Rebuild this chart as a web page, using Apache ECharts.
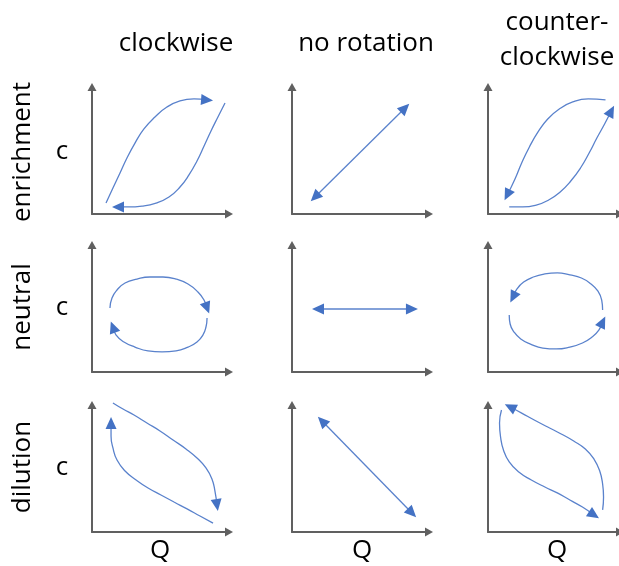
<!DOCTYPE html>
<html><head><meta charset="utf-8">
<script src="https://cdn.jsdelivr.net/npm/echarts@6/dist/echarts.min.js"></script>
<style>html,body{margin:0;padding:0;background:#fff}#c{width:619px;height:566px}</style>
</head><body><div id="c"></div>
<script>
// ---- text ----
const columnTitles = ['clockwise', 'no rotation', 'counter-\nclockwise'];
const rowLabels = ['enrichment', 'neutral', 'dilution'];
const yAxisLabel = 'c';
const xAxisLabel = 'Q';

// ---- curves (data units, each panel axes 0..100) ----
// row 0: enrichment
const enrCwUpper = [[10.3,8.7],[15.4,20.6],[20.6,32.5],[25.7,44.4],[31.6,56.3],[38.2,67.5],[46.3,77.0],[55.1,84.9],[64.7,89.7],[75.0,91.3],[84.6,90.5]];
const enrCwLower = [[97.8,88.1],[92.6,77.0],[87.5,65.9],[82.4,54.0],[77.2,42.1],[71.3,31.0],[64.7,21.4],[56.6,13.5],[47.1,8.7],[36.8,6.3],[26.5,5.6],[19.1,5.6]];
const enrNone = [[16.9,13.5],[83.1,84.1]];
const enrCcwUpper = [[89.7,90.5],[76.5,91.3],[64.7,88.9],[54.4,83.3],[45.6,75.4],[38.2,65.1],[31.6,53.2],[25.7,40.5],[20.6,27.8],[14.7,15.1]];
const enrCcwLower = [[16.2,5.6],[26.5,5.6],[36.8,7.1],[46.3,11.1],[55.1,17.5],[63.2,26.2],[70.6,36.5],[77.2,48.4],[83.1,60.3],[89.0,71.4],[94.1,81.7]];
// row 1: neutral
const neuCwTop = [[13.2,50.8],[14.7,58.7],[18.4,65.1],[24.3,70.6],[33.1,73.8],[42.6,75.4],[52.2,75.4],[61.8,73.8],[70.6,69.8],[77.9,63.5],[82.4,57.1],[84.6,50.8]];
const neuCwBottom = [[84.6,42.9],[83.8,35.7],[81.6,29.4],[77.2,23.8],[70.6,19.8],[61.8,16.7],[51.5,15.9],[41.2,16.7],[31.6,19.8],[23.5,23.8],[17.6,29.4],[15.4,35.7]];
const neuNone = [[19.1,50.0],[88.2,50.0]];
const neuCcwTop = [[87.5,49.2],[86.8,57.1],[83.8,64.3],[78.7,69.8],[71.3,74.6],[62.5,77.0],[52.9,78.6],[43.4,77.8],[34.6,75.4],[27.2,71.4],[22.1,65.9],[19.1,59.5]];
const neuCcwBottom = [[16.2,45.2],[16.9,38.1],[19.9,31.7],[25.0,26.2],[32.4,22.2],[41.9,19.0],[52.2,18.3],[62.5,19.8],[72.1,23.0],[79.4,27.8],[84.6,33.3],[87.5,39.7]];
// row 2: dilution
const dilCwUpper = [[15.4,102.4],[22.8,97.6],[30.9,92.9],[40.4,86.5],[50.0,80.2],[59.6,73.0],[69.1,65.9],[77.2,58.7],[83.8,50.8],[88.2,42.1],[90.4,32.5],[91.9,21.4]];
const dilCwLower = [[89.0,7.1],[79.4,12.7],[69.9,18.3],[60.3,23.8],[50.7,29.4],[41.2,34.9],[32.4,41.3],[24.3,48.4],[18.4,57.1],[15.4,66.7],[14.0,76.2],[14.0,86.5]];
const dilNone = [[22.1,88.1],[88.2,15.1]];
const dilCcwA = [[10.3,96.8],[8.8,86.5],[9.6,75.4],[11.8,65.1],[16.2,55.6],[23.5,47.6],[33.1,41.3],[43.4,35.7],[52.9,31.0],[62.5,25.4],[72.1,19.8],[80.9,13.5]];
const dilCcwB = [[87.5,17.5],[88.2,27.8],[87.5,38.1],[85.3,48.4],[80.9,57.9],[74.3,65.9],[65.4,72.2],[55.9,77.8],[45.6,83.3],[35.3,88.9],[25.7,94.4],[16.9,99.2]];

const panels = [
  {row:0, col:0, curves:[{pts:enrCwUpper, arrows:'end'},{pts:enrCwLower, arrows:'end'}]},
  {row:0, col:1, curves:[{pts:enrNone, arrows:'both'}]},
  {row:0, col:2, curves:[{pts:enrCcwUpper, arrows:'end'},{pts:enrCcwLower, arrows:'end'}]},
  {row:1, col:0, curves:[{pts:neuCwTop, arrows:'end'},{pts:neuCwBottom, arrows:'end'}]},
  {row:1, col:1, curves:[{pts:neuNone, arrows:'both'}]},
  {row:1, col:2, curves:[{pts:neuCcwTop, arrows:'end'},{pts:neuCcwBottom, arrows:'end'}]},
  {row:2, col:0, curves:[{pts:dilCwUpper, arrows:'end'},{pts:dilCwLower, arrows:'end'}]},
  {row:2, col:1, curves:[{pts:dilNone, arrows:'both'}]},
  {row:2, col:2, curves:[{pts:dilCcwA, arrows:'end'},{pts:dilCcwB, arrows:'end'}]}
];

// ---- layout / style ----
const colLeft = [92, 292, 488];
const rowTop = [88, 246, 406];
const PW = 136, PH = 126;
const BLUE = '#4472C4';
const FONT = '"Open Sans", "Noto Sans", sans-serif';

function angle(from, to) {
  const dx = (to[0]-from[0]) * PW/100, dy = (to[1]-from[1]) * PH/100;
  return Math.atan2(dy, dx) * 180 / Math.PI - 90;
}

const grid = [], xAxis = [], yAxis = [], series = [];
panels.forEach((p, i) => {
  grid.push({left: colLeft[p.col], top: rowTop[p.row], width: PW, height: PH});
  const axisCommon = {
    type: 'value', min: 0, max: 100, gridIndex: i,
    axisLine: {show: true, lineStyle: {color: '#606060', width: 2}, symbol: ['none', 'triangle'], symbolSize: [9, 8], symbolOffset:[0,1]},
    axisTick: {show: false}, axisLabel: {show: false}, splitLine: {show: false}
  };
  xAxis.push(Object.assign({}, axisCommon));
  yAxis.push(Object.assign({}, axisCommon));
  p.curves.forEach(c => {
    const n = c.pts.length;
    const data = c.pts.map((pt, k) => {
      const item = {value: pt, symbol: 'none'};
      if (k === n-1) {
        item.symbol = 'triangle'; item.symbolSize = [11, 12];
        item.symbolRotate = angle(c.pts[n-2], pt);
      }
      if (k === 0 && c.arrows === 'both') {
        item.symbol = 'triangle'; item.symbolSize = [11, 12];
        item.symbolRotate = angle(c.pts[1], pt);
      }
      return item;
    });
    series.push({
      type: 'line', xAxisIndex: i, yAxisIndex: i, data, smooth: 0.5, clip: false,
      showSymbol: true, lineStyle: {color: '#5A82CC', width: 1.3},
      itemStyle: {color: BLUE}, silent: true, animation: false
    });
  });
});

const textStyle = {fill: '#000', font: '26px ' + FONT, textAlign: 'center', textVerticalAlign: 'middle'};
const graphic = [];
const titleOffsets = [84, 74, 69];
columnTitles.forEach((t, c) => {
  graphic.push({type: 'text', x: colLeft[c] + titleOffsets[c], y: c===2 ? 40 : 44,
    style: Object.assign({}, textStyle, {text: t, lineHeight: 35})});
});
const rowCenters = [152, 307, 467];
rowLabels.forEach((t, r) => {
  graphic.push({type: 'text', x: 23, y: rowCenters[r], rotation: Math.PI/2,
    style: Object.assign({}, textStyle, {text: t})});
  graphic.push({type: 'text', x: 62, y: [152, 308, 468][r],
    style: Object.assign({}, textStyle, {text: yAxisLabel})});
});
colLeft.forEach((x, c) => {
  graphic.push({type: 'text', x: x + PW/2 + [0, 2, 1][c], y: 551,
    style: Object.assign({}, textStyle, {text: xAxisLabel})});
});

const chart = echarts.init(document.getElementById('c'), null, {renderer: 'canvas'});
chart.setOption({animation: false, grid, xAxis, yAxis, series, graphic});
</script></body></html>
